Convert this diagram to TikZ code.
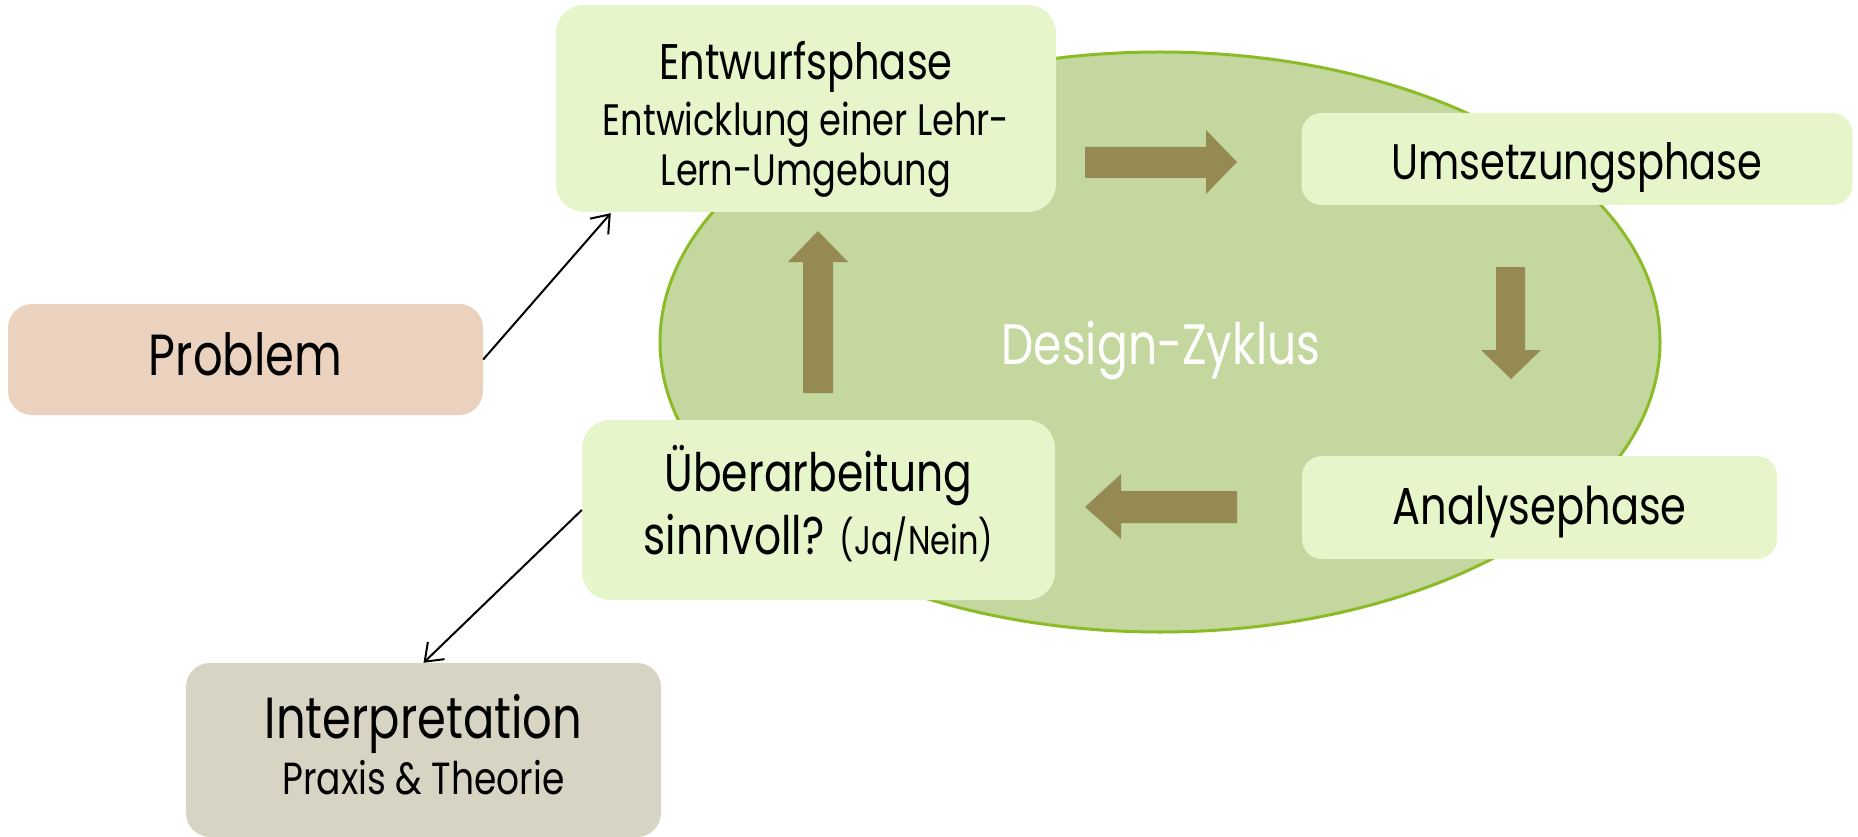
\documentclass[tikz,border=0pt]{standalone}
\usepackage{fontspec}
\setmainfont{Poppins}[FakeStretch=0.8]
\usetikzlibrary{arrows.meta,calc,shapes.geometric}
\definecolor{phasefill}{RGB}{230,245,202}
\definecolor{problemfill}{RGB}{234,210,191}
\definecolor{interpfill}{RGB}{215,212,196}
\definecolor{cyclefill}{RGB}{196,215,159}
\definecolor{cycleline}{RGB}{140,187,40}
\definecolor{arrowolive}{RGB}{150,138,84}
\newcommand{\fs}[2]{\fontsize{#1}{#2}\selectfont}
% invisible struts fixing the top and bottom of a text block
\newcommand{\topstrut}[1]{\rule{0pt}{#1}}
\newcommand{\botstrut}[1]{\rule[-#1]{0pt}{#1}}
\begin{document}
\begin{tikzpicture}[x=1pt,y=-1pt,
  phase/.style={fill=phasefill, rounded corners=28pt, inner sep=0pt, text=black, align=center},
  sidebox/.style={rounded corners=24pt, inner sep=0pt, text=black, align=center},
  blockarrow/.style={fill=arrowolive, draw=none},
  link/.style={draw=black, line width=2pt, -{Straight Barb[length=16pt,width=24pt,line width=2pt]}}]
\useasboundingbox (0,0) rectangle (1858,837);

% the cycle in the background
\node[ellipse, fill=cyclefill, draw=cycleline, line width=3pt,
      minimum width=1000pt, minimum height=580pt, inner sep=0pt] (cycle) at (1160,342) {};
\node[text=white, font=\fs{57}{64}, anchor=base] (cyclename) at (1161,364) {Design-Zyklus};

% the four phases
\node[phase, minimum width=500pt, minimum height=207pt, font=\fs{44}{51}] (entw) at (806,108.5)
  {{\fs{50}{51}\topstrut{69pt}Entwurfsphase}\\[4pt]
   Entwicklung einer Lehr-\\
   Lern-Umgebung\botstrut{20pt}};
\node[phase, rounded corners=20pt, minimum width=551pt, minimum height=92pt, font=\fs{50}{56},
      text height=62pt, text depth=20pt]
  (umsetz) at (1577,159) {Umsetzungsphase};
\node[phase, rounded corners=20pt, minimum width=475pt, minimum height=103pt, font=\fs{52}{58},
      text height=53pt, text depth=20pt]
  (analyse) at (1539.5,507.5) {Analysephase};
\node[phase, minimum width=473pt, minimum height=180pt, font=\fs{53}{63}] (ueber) at (818.5,510)
  {\topstrut{55pt}Überarbeitung\\
   sinnvoll? {\fs{40}{63}(Ja/Nein)}\botstrut{30pt}};

% problem and interpretation
\node[sidebox, fill=problemfill, minimum width=475pt, minimum height=111pt, font=\fs{58}{64},
      text height=52pt, text depth=20pt]
  (problem) at (245.5,359.5) {Problem};
\node[sidebox, fill=interpfill, minimum width=475pt, minimum height=174pt, font=\fs{45}{56}]
  (interp) at (423.5,750)
  {{\fs{58}{56}\topstrut{52pt}Interpretation}\\
   Praxis \& Theorie\botstrut{20pt}};

% block arrows of the cycle
\fill[blockarrow] (1085,147) -- (1206,147) -- (1206,130) -- (1237,162) -- (1206,194)
  -- (1206,178) -- (1085,178) -- cycle;
\fill[blockarrow] (1496,267) -- (1525,267) -- (1525,350) -- (1541,350) -- (1511,379)
  -- (1481,350) -- (1496,350) -- cycle;
\fill[blockarrow] (1237,491) -- (1121,491) -- (1121,474) -- (1085,507) -- (1121,539)
  -- (1121,523) -- (1237,523) -- cycle;
\fill[blockarrow] (803,393) -- (803,262) -- (788,262) -- (818,231) -- (848,262)
  -- (833,262) -- (833,393) -- cycle;

% connectors
\coordinate (entwin) at ($(entw.south west)+(55,1)$);
\draw[link] (problem.east) -- (entwin);
\draw[link] (ueber.west) -- (interp.north);
\end{tikzpicture}
\end{document}
